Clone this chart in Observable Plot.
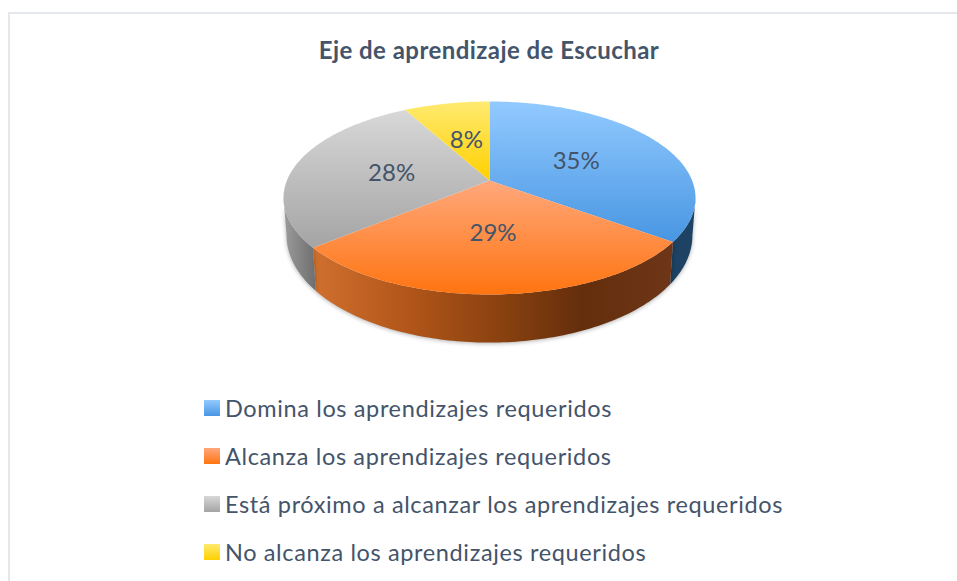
<!DOCTYPE html>
<html lang="es">
<head>
<meta charset="utf-8">
<script src="https://cdn.jsdelivr.net/npm/d3@7"></script>
<script src="https://cdn.jsdelivr.net/npm/@observablehq/plot@0.6"></script>
<style>
  html, body { margin: 0; padding: 0; width: 957px; height: 581px; overflow: hidden; background: #fff; }
  body { position: relative; font-family: Lato, "Open Sans", sans-serif; color: #44546a; }
  #frame { position: absolute; left: 8px; top: 12px; width: 1200px; height: 900px; border: 2px solid #e4e8ec; box-sizing: border-box; }
  #title { position: absolute; left: 0; width: 978px; top: 34px; text-align: center; font-size: 24px; letter-spacing: 0.45px; font-weight: 700; line-height: 32px; }
  #chart { position: absolute; left: 0; top: 88px; }
  #chart svg { display: block; }
  #legend { position: absolute; left: 204px; top: 384px; }
  .item { position: absolute; left: 0; display: flex; align-items: center; white-space: nowrap; height: 48px; font-size: 23.5px; letter-spacing: 0.63px; }
  .swatch { width: 16px; height: 16px; margin-right: 5px; flex: none; }
</style>
</head>
<body>
<div id="frame"></div>
<div id="title"></div>
<div id="chart"></div>
<div id="legend"></div>
<script>
const chartTitle = "Eje de aprendizaje de Escuchar";
const categories = [
  "Domina los aprendizajes requeridos",
  "Alcanza los aprendizajes requeridos",
  "Está próximo a alcanzar los aprendizajes requeridos",
  "No alcanza los aprendizajes requeridos"
];
const values = [35, 29, 28, 8];
const topFrom = ["#92caff", "#ffa87c", "#d8d8d8", "#ffea70"];
const topTo = ["#4896e2", "#ff7410", "#a4a4a4", "#ffd000"];
const sideStops = [
  ["#1d4263", "#1d4263"],
  ["#d0702f", "#b3571a", "#8d4310", "#642e0c", "#6e3618"],
  ["#9c9c9c", "#6e6e6e"],
  ["#a88a00", "#a88a00"]
];

// Tilted-disc model of the pie: angle → point on the top face, in unit-ellipse coordinates
const tilt = -0.181;
const squeeze = Math.sqrt(1 - tilt * tilt);
const disc = (deg, r = 1) => {
  const a = deg * Math.PI / 180, u = r * Math.sin(a), v = -r * Math.cos(a);
  const k = 1 + tilt * v;
  return { x: u * squeeze / k, y: (v + tilt) / k };
};
const lower = (p) => ({ x: p.x * 0.985, y: p.y * 1.109 + 0.389 });

let acc = 0;
const total = d3.sum(values);
const slices = values.map((v, i) => {
  const a0 = acc / total * 360; acc += v;
  return { i, v, a0, a1: acc / total * 360 };
});
slices.forEach((s) => (s.mid = (s.a0 + s.a1) / 2));

const arc = (a0, a1) => {
  const pts = [];
  const n = Math.max(2, Math.ceil(a1 - a0));
  for (let k = 0; k <= n; ++k) pts.push(disc(a0 + (a1 - a0) * k / n));
  return pts;
};
const facePolygon = (s) => [disc(0, 0), ...arc(s.a0, s.a1)];
const tangent = Math.acos(tilt) * 180 / Math.PI;
const sidePolygon = (s) => {
  const a0 = Math.max(s.a0, tangent), a1 = Math.min(s.a1, 360 - tangent);
  if (a1 <= a0) return null;
  const rim = arc(a0, a1);
  return [...rim, ...rim.slice().reverse().map(lower)];
};

const gradients = () => {
  const defs = d3.create("svg:defs");
  slices.forEach((s) => {
    const t = defs.append("linearGradient").attr("id", `top${s.i}`).attr("x1", 0).attr("x2", 0).attr("y1", 0).attr("y2", 1);
    t.append("stop").attr("offset", "0%").attr("stop-color", topFrom[s.i]);
    t.append("stop").attr("offset", "100%").attr("stop-color", topTo[s.i]);
    const g = defs.append("linearGradient").attr("id", `side${s.i}`).attr("x1", 0).attr("x2", 1).attr("y1", 0).attr("y2", 0);
    sideStops[s.i].forEach((c, j, all) => g.append("stop").attr("offset", `${j / (all.length - 1) * 100}%`).attr("stop-color", c));
  });
  return defs.node();
};

const sideMarks = slices.map((s) => ({ s, poly: sidePolygon(s) })).filter((d) => d.poly).map(({ s, poly }) =>
  Plot.line(poly, { x: "x", y: "y", fill: `url(#side${s.i})`, stroke: "none", curve: "linear", imageFilter: "drop-shadow(0 1px 2px rgba(0,0,0,0.3))" })
);
const faceMarks = slices.map((s) =>
  Plot.line(facePolygon(s), { x: "x", y: "y", fill: `url(#top${s.i})`, stroke: "none", curve: "linear" })
);
const labels = slices.map((s) => ({ ...disc(s.mid, 0.5), label: `${s.v}%` }));

document.getElementById("title").textContent = chartTitle;
const chart = Plot.plot({
  width: 957,
  height: 290,
  margin: 0,
  x: { axis: null, domain: [-1, 1], range: [283, 695] },
  y: { axis: null, domain: [-1, 1], range: [13, 206] },
  marks: [
    gradients,
    ...sideMarks,
    ...faceMarks,
    Plot.text(labels, { x: "x", y: "y", text: "label", dy: 1, fontSize: 24, fill: "#44546a", fontFamily: "Lato, 'Open Sans', sans-serif" })
  ]
});
chart.style.background = "transparent";
document.getElementById("chart").append(chart);

const legend = document.getElementById("legend");
categories.forEach((c, i) => {
  const item = document.createElement("div");
  item.className = "item";
  item.style.top = `${i * 48}px`;
  const sw = document.createElement("span");
  sw.className = "swatch";
  sw.style.background = `linear-gradient(${topFrom[i]}, ${topTo[i]})`;
  const tx = document.createElement("span");
  tx.textContent = c;
  item.append(sw, tx);
  legend.append(item);
});
</script>
</body>
</html>
